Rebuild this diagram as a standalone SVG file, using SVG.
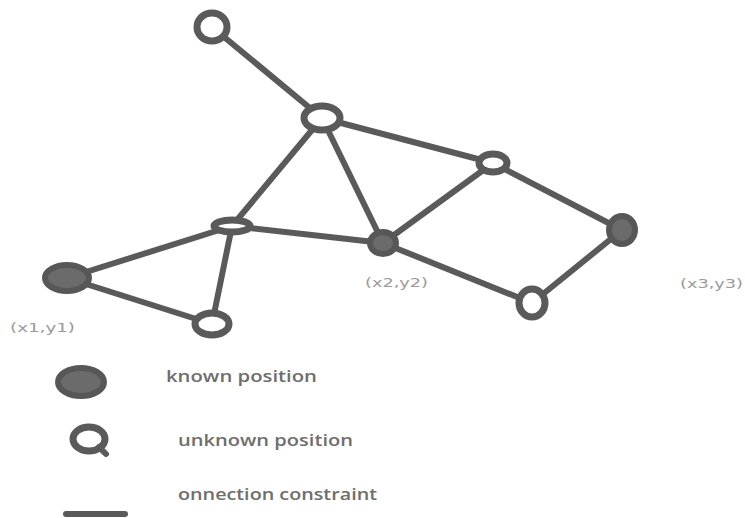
<svg xmlns="http://www.w3.org/2000/svg" width="745" height="518" viewBox="0 0 745 518">
<style>
.e{stroke:#5a5a5a;stroke-width:6;stroke-linecap:round;fill:none}
.u{fill:#fff;stroke:#5a5a5a;stroke-width:7}
.k{fill:#6b6b6b;stroke:#575757;stroke-width:6}
.lbl{font-family:"DejaVu Sans",sans-serif;font-size:13px;fill:#9a9a9a}
.leg{font-family:"Open Sans","DejaVu Sans",sans-serif;font-weight:600;font-size:15.5px;fill:#6e6e6e}
</style>
<rect width="745" height="518" fill="#fff"/>
<g id="connectors">
<line class="e" x1="212" y1="27" x2="322" y2="118"/>
<line class="e" x1="322" y1="118" x2="232" y2="226"/>
<line class="e" x1="322" y1="118" x2="383" y2="243"/>
<line class="e" x1="322" y1="118" x2="493" y2="163"/>
<line class="e" x1="493" y1="163" x2="383" y2="243"/>
<line class="e" x1="493" y1="163" x2="622" y2="230"/>
<line class="e" x1="622" y1="230" x2="532" y2="303"/>
<line class="e" x1="532" y1="303" x2="383" y2="243"/>
<line class="e" x1="383" y1="243" x2="232" y2="226"/>
<line class="e" x1="232" y1="226" x2="67" y2="278"/>
<line class="e" x1="232" y1="226" x2="212" y2="324"/>
<line class="e" x1="67" y1="278" x2="212" y2="324"/>
</g>
<g id="n-top"><ellipse class="u" cx="212" cy="27" rx="15" ry="14"/></g>
<g id="n-hub"><ellipse class="u" cx="322" cy="118" rx="18" ry="12"/></g>
<g id="n-rtop"><ellipse class="u" cx="493" cy="163" rx="14" ry="9"/></g>
<g id="n-x3"><ellipse class="k" cx="622" cy="230" rx="13" ry="14"/></g>
<g id="n-bright"><ellipse class="u" cx="532" cy="303" rx="13" ry="14"/></g>
<g id="n-x2"><ellipse class="k" cx="383" cy="243" rx="13" ry="11" stroke-width="5"/></g>
<g id="n-mleft"><ellipse class="u" cx="232" cy="226" rx="18" ry="6"/></g>
<g id="n-x1"><ellipse class="k" cx="67" cy="278" rx="22" ry="13"/></g>
<g id="n-bleft"><ellipse class="u" cx="212" cy="324" rx="17" ry="11"/></g>
<g id="labels">
<text class="lbl" x="10" y="332" textLength="65" lengthAdjust="spacingAndGlyphs">(x1,y1)</text>
<text class="lbl" x="365" y="287" textLength="63" lengthAdjust="spacingAndGlyphs">(x2,y2)</text>
<text class="lbl" x="680" y="288" textLength="63" lengthAdjust="spacingAndGlyphs">(x3,y3)</text>
</g>
<g id="legend">
<ellipse class="k" cx="81" cy="382" rx="23" ry="14"/>
<text class="leg" x="166" y="382" textLength="151" lengthAdjust="spacingAndGlyphs">known position</text>
<ellipse class="u" cx="89" cy="439" rx="16" ry="12" stroke-width="8"/>
<line class="e" x1="99" y1="447" x2="106" y2="454" stroke-width="5"/>
<text class="leg" x="178" y="446" textLength="175" lengthAdjust="spacingAndGlyphs">unknown position</text>
<line class="e" x1="66" y1="514" x2="125" y2="514"/>
<text class="leg" x="178" y="500" textLength="199" lengthAdjust="spacingAndGlyphs">onnection constraint</text>
</g>
</svg>
